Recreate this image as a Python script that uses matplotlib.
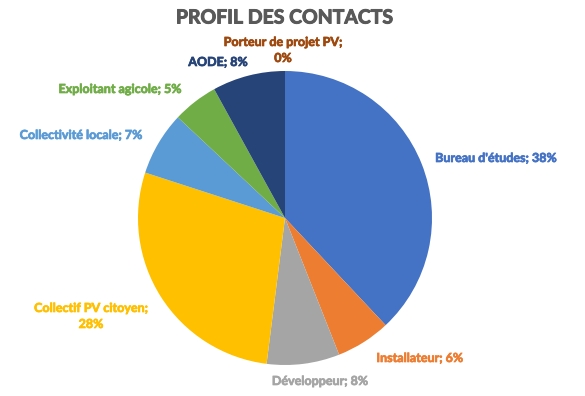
import matplotlib
matplotlib.use("Agg")
import matplotlib.pyplot as plt
import matplotlib.patheffects as pe

plt.rcParams['font.family'] = ['Lato', 'DejaVu Sans']

categories = ["Bureau d'études", "Installateur", "Développeur", "Collectif PV citoyen",
              "Collectivité locale", "Exploitant agicole", "AODE", "Porteur de projet PV"]
values = [38, 6, 8, 28, 7, 5, 8, 0]
colors = ["#4472C4", "#ED7D31", "#A5A5A5", "#FFC000", "#5B9BD5", "#70AD47", "#264478", "#9E480E"]
# label lines per category (wrapped where the reference wraps)
label_lines = [["Bureau d'études; 38%"], ["Installateur; 6%"], ["Développeur; 8%"],
               ["Collectif PV citoyen;", "28%"], ["Collectivité locale; 7%"],
               ["Exploitant agicole; 5%"], ["AODE; 8%"], ["Porteur de projet PV;", "0%"]]
# first-line centres in pixel coords (x from left, y from top)
label_pos = [(496, 158), (420, 358), (320, 381), (91, 308), (81, 135), (120, 89), (218, 62), (283, 42)]
line_step = 16

W, H = 585, 396
fig = plt.figure(figsize=(W / 100, H / 100), dpi=100)
fig.patch.set_facecolor("white")

cx, cy, r = 285, 218, 147
ax = fig.add_axes([(cx - r) / W, (H - cy - r) / H, 2 * r / W, 2 * r / H])
ax.pie(values, colors=colors, startangle=90, counterclock=False, radius=1,
       wedgeprops=dict(linewidth=0))
ax.set_xlim(-1, 1)
ax.set_ylim(-1, 1)
ax.set_aspect('equal')
ax.axis('off')

fig.text(285 / W, 1 - 18 / H, "PROFIL DES CONTACTS", ha='center', va='center',
         fontsize=14, fontweight='bold', color='#595959',
         path_effects=[pe.withStroke(linewidth=0.7, foreground='#595959')])

for lines, (px, py), col in zip(label_lines, label_pos, colors):
    for i, line in enumerate(lines):
        fig.text(px / W, 1 - (py + i * line_step) / H, line, ha='center', va='center',
                 fontsize=9, fontweight='bold', color=col,
                 path_effects=[pe.withStroke(linewidth=0.5, foreground=col)])

fig.savefig("out.png", dpi=100)
